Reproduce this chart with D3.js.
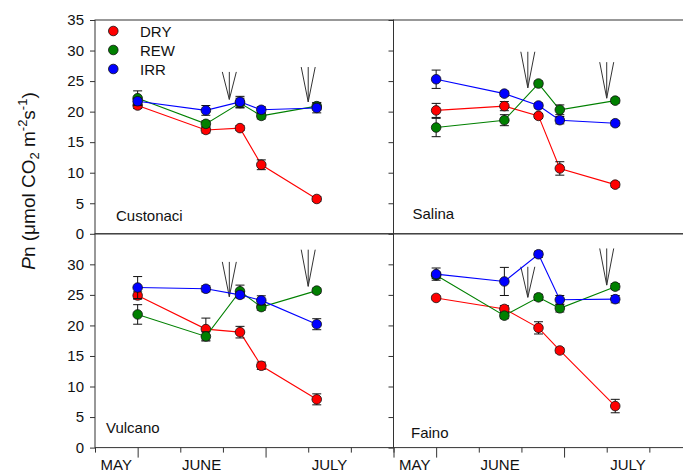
<!DOCTYPE html>
<html>
<head>
<meta charset="utf-8">
<script src="https://cdn.jsdelivr.net/npm/d3@7/dist/d3.min.js"></script>
<style>
  body { margin: 0; background: #fff; }
  svg { display: block; font-family: "Liberation Sans", Arial, sans-serif; }
</style>
</head>
<body>
<svg id="chart" width="683" height="472"></svg>
<script>
// ---- data ----
const sites = ["Custonaci", "Salina", "Vulcano", "Faino"];
const treatments = ["DRY", "REW", "IRR"];
const sampleDays = [10, 26, 34, 39, 52];
const monthLabels = ["MAY", "JUNE", "JULY"];
const monthDays = [5, 25, 55];
const yTicksTop = [0, 5, 10, 15, 20, 25, 30, 35];
const yTicksBottom = [0, 5, 10, 15, 20, 25, 30];
const xTickDays = [0, 10, 20, 30, 40, 50, 60, 70];
const xMajorDays = [10, 40, 70];

// mean Pn per site (rows: Custonaci, Salina, Vulcano, Faino)
const dryMean = [
  [21.0, 17.0, 17.3, 11.3, 5.7],
  [20.2, 20.9, 19.3, 10.7, 8.05],
  [24.9, 19.4, 18.9, 13.4, 7.9],
  [24.5, 22.7, 19.6, 15.9, 6.8]
];
const dryErr = [
  [0.5, 0.5, 0.4, 0.8, 0.4],
  [1.15, 0.75, 0.4, 1.1, 0.4],
  [0.6, 1.8, 0.95, 0.6, 0.9],
  [0.3, 0.55, 1.0, 0.4, 1.1]
];
const rewMean = [
  [22.2, 18.0, 21.4, 19.3, 20.9],
  [17.4, 18.6, 24.6, 20.3, 21.8],
  [21.8, 18.2, 25.6, 23.0, 25.7],
  [28.2, 21.6, 24.6, 22.8, 26.35]
];
const rewErr = [
  [1.2, 0.5, 0.8, 0.5, 0.6],
  [1.5, 0.9, 0.4, 0.8, 0.4],
  [1.6, 0.75, 1.0, 0.5, 0.4],
  [0.5, 0.5, 0.5, 0.6, 0.5]
];
const irrMean = [
  [21.7, 20.2, 21.6, 20.3, 20.6],
  [25.3, 22.95, 21.0, 18.6, 18.1],
  [26.2, 26.0, 25.0, 24.1, 20.2],
  [28.4, 27.2, 31.65, 24.2, 24.3]
];
const irrErr = [
  [0.5, 0.8, 0.9, 0.5, 0.8],
  [1.5, 0.4, 0.4, 0.6, 0.4],
  [1.8, 0.5, 0.5, 0.75, 0.9],
  [1.0, 2.3, 0.5, 0.7, 0.6]
];
// re-watering arrows: day, top value, tip value (per site)
const arrowDays = [31.5, 50];
const arrowTop = [[26.5, 27.3], [29.8, 28.1], [30.4, 32.4], [29.6, 32.6]];
const arrowTip = [[22.0, 21.6], [23.9, 22.2], [24.7, 26.4], [24.6, 26.6]];

// ---- style / layout ----
const colors = ["#ff0000", "#008000", "#0000ff"];
const means = [dryMean, rewMean, irrMean];
const errs = [dryErr, rewErr, irrErr];
const L = 95, W = 298.5, T = 20, H = 213.8;
const labelPos = [[21, 12.5], [19, 15], [11, 14.5], [17.5, 9.5]];

const svg = d3.select("#chart");

sites.forEach((site, i) => {
  const col = i % 2, row = Math.floor(i / 2);
  const x0 = L + col * W, y0 = T + row * H;
  const x = d3.scaleLinear().domain([0, 70]).range([x0, x0 + W]);
  const y = d3.scaleLinear().domain([0, 35]).range([y0 + H, y0]);
  const g = svg.append("g");

  // frame
  g.append("rect").attr("x", x0).attr("y", y0).attr("width", W).attr("height", H)
    .attr("fill", "none").attr("stroke", "#333").attr("stroke-width", 1);

  // y axis
  const yAxis = d3.axisLeft(y)
    .tickValues(row === 0 ? yTicksTop : yTicksBottom)
    .tickSize(5).tickPadding(6)
    .tickFormat(col === 0 ? d3.format("d") : () => "");
  const ya = g.append("g").attr("transform", `translate(${x0},0)`).call(yAxis);
  ya.select(".domain").remove();
  ya.selectAll("line").attr("stroke", "#333");
  ya.selectAll("text").attr("font-size", 15).attr("fill", "#111")
    .attr("font-family", "Liberation Sans, Arial, sans-serif");

  // x axis (bottom row)
  if (row === 1) {
    const xAxis = d3.axisBottom(x).tickValues(xTickDays).tickSize(5).tickFormat(() => "");
    const xa = g.append("g").attr("transform", `translate(0,${y0 + H})`).call(xAxis);
    xa.select(".domain").remove();
    xa.selectAll(".tick line").attr("stroke", "#333")
      .attr("y2", d => xMajorDays.includes(d) ? 10 : 5);
    g.selectAll(".month").data(monthLabels).join("text")
      .attr("x", (d, k) => x(monthDays[k])).attr("y", 469.5)
      .attr("text-anchor", "middle").attr("font-size", 15).attr("fill", "#111")
      .text(d => d);
  }

  // arrows
  arrowDays.forEach((ad, k) => {
    const ax = x(ad), yt = y(arrowTop[i][k]), yp = y(arrowTip[i][k]);
    g.append("path")
      .attr("d", `M${ax - 7},${yt} L${ax},${yp} L${ax + 7},${yt} M${ax},${yt} L${ax},${yp}`)
      .attr("fill", "none").attr("stroke", "#333").attr("stroke-width", 1);
  });

  // series
  treatments.forEach((t, s) => {
    const pts = sampleDays.map((d, k) => ({ d, v: means[s][i][k], e: errs[s][i][k] }));
    const line = d3.line().x(p => x(p.d)).y(p => y(p.v));
    g.append("path").datum(pts).attr("d", line)
      .attr("fill", "none").attr("stroke", colors[s]).attr("stroke-width", 1.1);
    const eb = g.append("g").attr("stroke", "#111").attr("stroke-width", 1);
    pts.forEach(p => {
      const px = x(p.d), yl = y(p.v - p.e), yh = y(p.v + p.e);
      eb.append("line").attr("x1", px).attr("x2", px).attr("y1", yl).attr("y2", yh);
      eb.append("line").attr("x1", px - 4.5).attr("x2", px + 4.5).attr("y1", yl).attr("y2", yl);
      eb.append("line").attr("x1", px - 4.5).attr("x2", px + 4.5).attr("y1", yh).attr("y2", yh);
    });
    g.selectAll(null).data(pts).join("circle")
      .attr("cx", p => x(p.d)).attr("cy", p => y(p.v)).attr("r", 4.8)
      .attr("fill", colors[s]).attr("stroke", "#111").attr("stroke-width", 0.8);
  });

  // site label
  g.append("text").attr("x", x0 + labelPos[i][0]).attr("y", y0 + H - labelPos[i][1])
    .attr("font-size", 15).attr("fill", "#111").text(site);

  // legend
  if (i === 0) {
    treatments.forEach((t, s) => {
      const ly = 31 + s * 19;
      g.append("circle").attr("cx", 113.3).attr("cy", ly).attr("r", 4.8)
        .attr("fill", colors[s]).attr("stroke", "#111").attr("stroke-width", 0.8);
      g.append("text").attr("x", 140).attr("y", ly + 5.5).attr("font-size", 15)
        .attr("fill", "#111").text(t);
    });
  }
});

// y axis title
const yt = svg.append("text")
  .attr("transform", "translate(35,181) rotate(-90)")
  .attr("text-anchor", "middle").attr("font-size", 19).attr("fill", "#111");
yt.append("tspan").attr("font-style", "italic").text("P");
yt.append("tspan").text("n (\u03bcmol CO");
yt.append("tspan").attr("font-size", 13).attr("dy", 4).text("2");
yt.append("tspan").attr("dy", -4).text(" m");
yt.append("tspan").attr("font-size", 13).attr("dy", -8).text("-2");
yt.append("tspan").attr("dy", 8).text("s");
yt.append("tspan").attr("font-size", 13).attr("dy", -8).text("-1");
yt.append("tspan").attr("dy", 8).text(")");
</script>
</body>
</html>
